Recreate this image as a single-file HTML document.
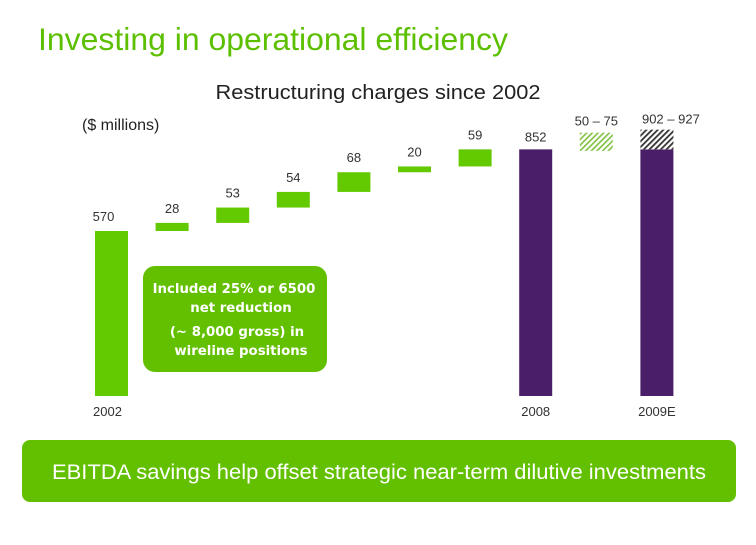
<!DOCTYPE html>
<html><head><meta charset="utf-8"><style>
body{margin:0;width:756px;height:540px;background:#fff;font-family:"Liberation Sans",sans-serif;overflow:hidden}
</style></head><body>
<svg width="756" height="540">
<defs><pattern id="hg" width="4" height="4" patternUnits="userSpaceOnUse" patternTransform="rotate(45)"><rect width="4" height="4" fill="#fff"/><rect width="1.6" height="4" fill="#7fc040"/></pattern>
<pattern id="hp" width="4" height="4" patternUnits="userSpaceOnUse" patternTransform="rotate(45)"><rect width="4" height="4" fill="#fff"/><rect width="1.8" height="4" fill="#333"/></pattern></defs>
<text x="38" y="50" font-size="31.5" fill="#5cbf00" textLength="470" lengthAdjust="spacingAndGlyphs">Investing in operational efficiency</text>
<text x="378" y="99" font-size="20" fill="#222" text-anchor="middle" textLength="325" lengthAdjust="spacingAndGlyphs">Restructuring charges since 2002</text>
<text x="82" y="130" font-size="16" fill="#222">($ millions)</text>
<g id="bars"></g>
<rect x="143" y="266" width="184" height="106" rx="12" fill="#63c000"/>
<text font-size="13.3" font-weight="bold" fill="#fff" text-anchor="middle" font-family="DejaVu Sans, sans-serif">
<tspan x="234" y="293">Included 25% or 6500</tspan><tspan x="241" y="312">net reduction</tspan><tspan x="237" y="336">(~ 8,000 gross) in</tspan><tspan x="241" y="355">wireline positions</tspan></text>
<rect x="22" y="440" width="714" height="62" rx="8" fill="#63c000"/>
<text x="379" y="479" font-size="21" fill="#fff" text-anchor="middle" textLength="654" lengthAdjust="spacingAndGlyphs">EBITDA savings help offset strategic near-term dilutive investments</text>
</svg>
<script>
const categories=["2002","","","","","","","2008","","2009E"];
const deltas=[570,28,53,54,68,20,59];
const total2008=852;
const rangeLow=50, rangeHigh=75;
const labels=["570","28","53","54","68","20","59","852","50 – 75","902 – 927"];
const axisLabels=["2002","","","","","","","2008","","2009E"];
const g=document.getElementById('bars');
const base=396, k=165/570, x0=95, step=60.6, w=33;
const y=v=>base-v*k;
const X=i=>x0+i*step;
const NS='http://www.w3.org/2000/svg';
function mk(t,a){const e=document.createElementNS(NS,t);for(const n in a)e.setAttribute(n,a[n]);g.appendChild(e);return e;}
let cum=0;
deltas.forEach((d,i)=>{const lo=cum;cum+=d;
const r=mk('rect',{x:X(i),y:y(cum),width:w,height:y(lo)-y(cum),fill:'#63c900'});


const t=mk('text',{x:X(i)+w/2-(i==0?8:0),y:y(cum)-10,'font-size':13,fill:'#333','text-anchor':'middle'});t.textContent=labels[i];

});
const b=mk('rect',{x:X(7),y:y(total2008),width:w,height:y(0)-y(total2008),fill:'#4a1e68'});


const t7=mk('text',{x:X(7)+w/2,y:y(total2008)-8,'font-size':13,fill:'#333','text-anchor':'middle'});t7.textContent=labels[7];


const h=mk('rect',{x:X(8),y:y(total2008+rangeHigh)+5,width:w,height:(rangeHigh-rangeLow+45)*k*0.9,fill:'url(#hg)'});


const t8=mk('text',{x:X(8)+w/2,y:y(total2008+rangeHigh)-2,'font-size':13,fill:'#333','text-anchor':'middle'});t8.textContent=labels[8];


const b9=mk('rect',{x:X(9),y:y(total2008),width:w,height:y(0)-y(total2008),fill:'#4a1e68'});


const h9=mk('rect',{x:X(9),y:y(total2008+rangeHigh)+2,width:w,height:y(total2008)-y(total2008+rangeHigh)-2,fill:'url(#hp)'});


const t9=mk('text',{x:X(9)+w/2+14,y:y(total2008+rangeHigh)-4,'font-size':13,fill:'#333','text-anchor':'middle'});t9.textContent=labels[9];


axisLabels.forEach((l,i)=>{if(!l)return;const t=mk('text',{x:X(i)+w/2-(i==0?4:0),y:416,'font-size':13,fill:'#333','text-anchor':'middle'});t.textContent=l;

});
</script>
</body></html>
